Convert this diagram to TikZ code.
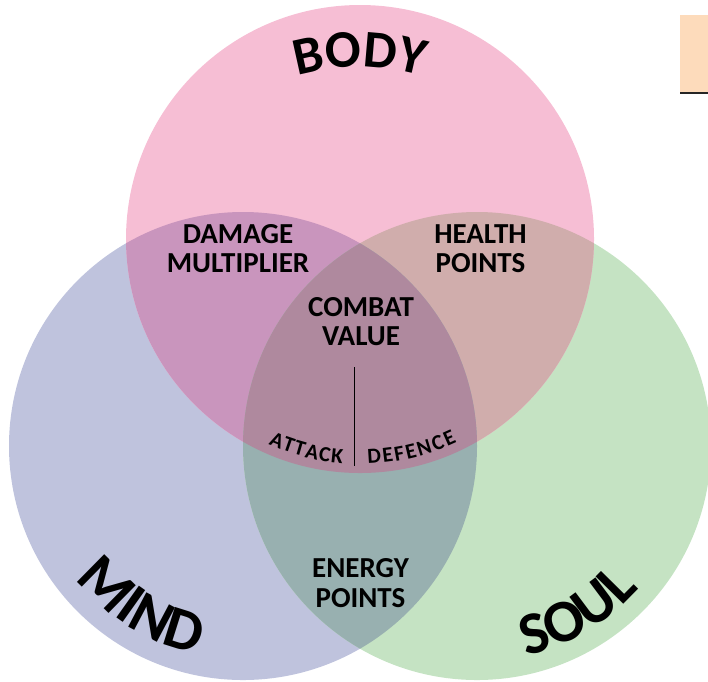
\documentclass[tikz,border=0pt]{standalone}
\usepackage{fontspec}
\newfontfamily\carlito{Carlito}
\usetikzlibrary{decorations.text,calc}
\definecolor{cP}{HTML}{F6BED4}
\definecolor{cB}{HTML}{BFC3DD}
\definecolor{cG}{HTML}{C5E3C3}
\definecolor{cPB}{HTML}{C995BD}
\definecolor{cPG}{HTML}{D0ADAC}
\definecolor{cBG}{HTML}{98B0B0}
\definecolor{cPBG}{HTML}{AF899E}
\definecolor{cOr}{HTML}{FDDBBB}
\newcommand\bodyfont{\carlito\bfseries\fontsize{53}{53}\selectfont}
\newcommand\vbigfont{\carlito\bfseries\fontsize{60}{60}\selectfont}
\newcommand\smallarcfont{\carlito\bfseries\fontsize{21.5}{21.5}\selectfont}
\def\R{234pt}
\begin{document}
\begin{tikzpicture}[x=1pt,y=1pt,
  lbl/.style={font=\carlito\bfseries\fontsize{29}{29.5}\selectfont, align=center, inner sep=0pt, text=black},
  arctext/.style={decorate, decoration={text along path, text align=center, text={#1}}},
  fittext/.style={decorate, decoration={text along path, text align=fit to path, text={#1}}}
]
\useasboundingbox (0,0) rectangle (708,-681);
\coordinate (P) at (360,-239);
\coordinate (B) at (243,-446);
\coordinate (G) at (477,-446);
% single circles
\fill[cB] (B) circle[radius=\R];
\fill[cG] (G) circle[radius=\R];
\fill[cP] (P) circle[radius=\R];
% pairwise overlaps
\begin{scope}\clip (B) circle[radius=\R]; \fill[cPB] (P) circle[radius=\R];\end{scope}
\begin{scope}\clip (G) circle[radius=\R]; \fill[cPG] (P) circle[radius=\R];\end{scope}
\begin{scope}\clip (B) circle[radius=\R]; \fill[cBG] (G) circle[radius=\R];\end{scope}
\begin{scope}\clip (B) circle[radius=\R]; \clip (G) circle[radius=\R]; \fill[cPBG] (P) circle[radius=\R];\end{scope}
% orange box top right
\coordinate (ob1) at (680,-15);
\coordinate (ob2) at (708,-92);
\fill[cOr] (ob1) rectangle (ob2);
\coordinate (ol1) at (680,-92.5);
\coordinate (ol2) at (708,-92.5);
\draw[line width=2pt,black!85] (ol1) -- (ol2);
% labels
\node[lbl] (dm) at (238,-248.5) {DAMAGE\\MULTIPLIER};
\node[lbl] (hp) at (480.5,-248.5) {HEALTH\\POINTS};
\node[lbl] (cv) at (361,-321.5) {COMBAT\\VALUE};
\node[lbl] (ep) at (360.5,-583) {ENERGY\\POINTS};
% divider
\coordinate (dt) at (354.3,-367);
\coordinate (db) at (354.3,-466);
\draw[line width=1.2pt] (dt) -- (db);
% curved texts
\coordinate (bc) at (360,-289);
\path[arctext={|\bodyfont|BODY}] ($(bc)+(140:222pt)$) arc[start angle=140, end angle=40, radius=222pt];
\path[arctext={|\vbigfont|MIND}] ($(B)+(188:213pt)$) arc[start angle=188, end angle=288, radius=213pt];
\path[arctext={|\vbigfont|SOUL}] ($(G)+(251:216pt)$) arc[start angle=251, end angle=351, radius=216pt];
\path[fittext={|\smallarcfont|ATTACK}] ($(P)+(246:225pt)$) arc[start angle=246, end angle=265.5, radius=225pt];
\path[fittext={|\smallarcfont|DEFENCE}] ($(P)+(272:225pt)$) arc[start angle=272, end angle=295.5, radius=225pt];
\end{tikzpicture}
\end{document}
